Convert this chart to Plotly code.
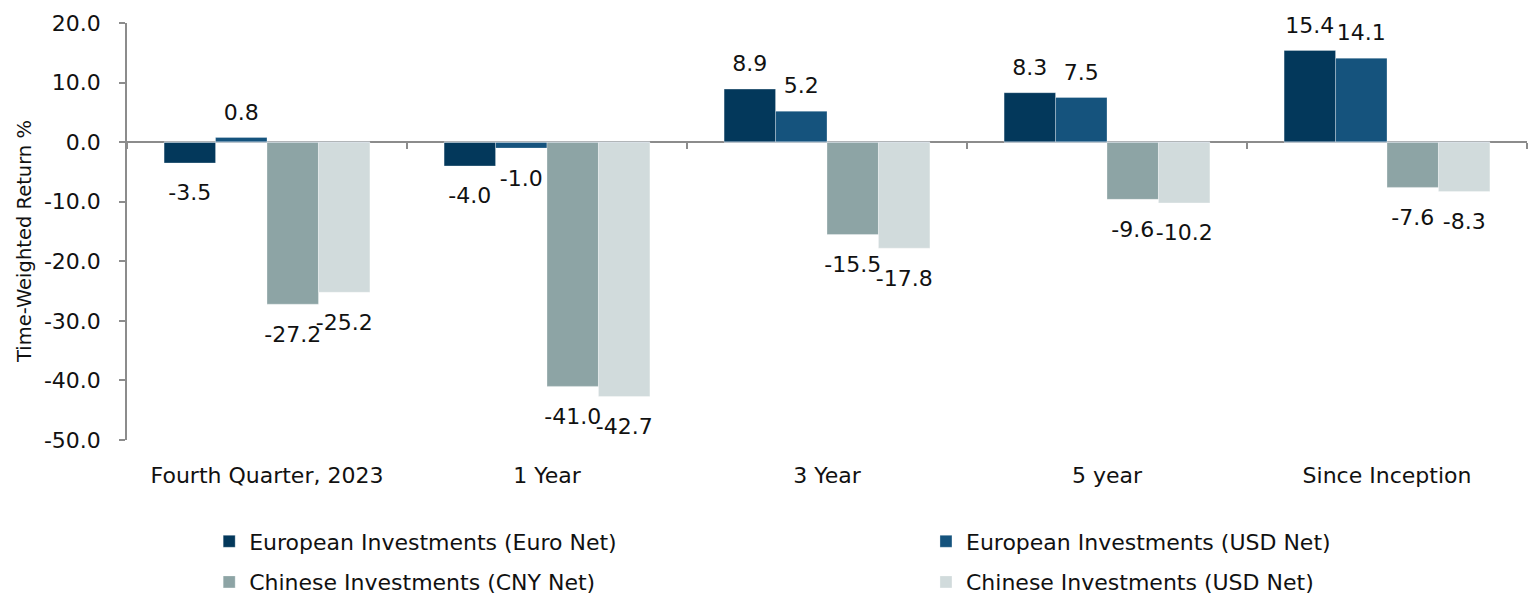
import plotly.graph_objects as go

categories = ["Fourth Quarter, 2023", "1 Year", "3 Year", "5 year", "Since Inception"]
series_names = [
    "European Investments (Euro Net)",
    "European Investments (USD Net)",
    "Chinese Investments (CNY Net)",
    "Chinese Investments (USD Net)",
]
euro_net = [-3.5, -4.0, 8.9, 8.3, 15.4]
eu_usd_net = [0.8, -1.0, 5.2, 7.5, 14.1]
cny_net = [-27.2, -41.0, -15.5, -9.6, -7.6]
cn_usd_net = [-25.2, -42.7, -17.8, -10.2, -8.3]
y_tick_vals = [-50, -40, -30, -20, -10, 0, 10, 20]
y_tick_text = ["-50.0", "-40.0", "-30.0", "-20.0", "-10.0", "0.0", "10.0", "20.0"]
y_title = "Time-Weighted Return %"
colors = ["#03385B", "#15537D", "#8DA4A5", "#D1DBDC"]
legend_ids = ["legend", "legend2", "legend", "legend2"]

y_min, y_max = -50, 20
FONT = "DejaVu Sans"
FS = 22
GAP = 0.265

all_series = [euro_net, eu_usd_net, cny_net, cn_usd_net]

fig = go.Figure()
for i, (name, vals, col, lg) in enumerate(zip(series_names, all_series, colors, legend_ids)):
    fig.add_trace(go.Bar(
        x=categories, y=vals, name=name, legend=lg, legendgroup=f"g{i}",
        marker=dict(color=col, line=dict(color="rgba(255,255,255,0.6)", width=0.5)),
    ))

# value labels: grouped scatter text traces aligned with the bars
for i, vals in enumerate(all_series):
    fig.add_trace(go.Scatter(
        x=categories, y=vals, mode="markers+text", showlegend=False, hoverinfo="skip",
        text=[f"{v:.1f}" for v in vals],
        textposition=["top center" if v >= 0 else "bottom center" for v in vals],
        textfont=dict(size=FS, color="#111111", family=FONT),
        marker=dict(size=[18 if v >= 0 else 32 for v in vals], color="rgba(0,0,0,0)",
                    opacity=0, line=dict(width=0, color="rgba(0,0,0,0)")),
        cliponaxis=False,
    ))

# invisible helper trace for the tick-marks axis on the zero line
fig.add_trace(go.Bar(x=categories, y=[0] * len(categories), xaxis="x2", showlegend=False,
                     hoverinfo="skip", marker=dict(color="rgba(0,0,0,0)")))

legend_common = dict(
    orientation="v", y=-0.193, yanchor="top",
    font=dict(size=FS, family=FONT, color="#111111"), tracegroupgap=9,
    itemwidth=30, bgcolor="rgba(0,0,0,0)",
)

fig.update_layout(
    width=1528, height=596,
    margin=dict(l=127, r=1, t=23, b=156, autoexpand=False),
    paper_bgcolor="white", plot_bgcolor="white",
    barmode="group", bargap=GAP, bargroupgap=0,
    scattermode="group", scattergap=GAP,
    font=dict(family=FONT, size=FS, color="#111111"),
    xaxis=dict(
        type="category", categoryarray=categories, range=[-0.5, 4.5],
        showline=False, ticks="", showgrid=False, zeroline=False, automargin=False,
        tickfont=dict(size=FS, family=FONT), ticklabelstandoff=20, tickangle=0,
    ),
    xaxis2=dict(
        type="category", categoryarray=categories, range=[-0.5, 4.5],
        overlaying="x", anchor="free", position=(0 - y_min) / (y_max - y_min),
        side="bottom", showticklabels=False, ticks="outside", tickson="boundaries",
        ticklen=6, tickcolor="#8C8C8C", tickwidth=1.5, showline=False, showgrid=False,
        automargin=False,
    ),
    yaxis=dict(
        range=[y_min, y_max], tickmode="array", tickvals=y_tick_vals, ticktext=y_tick_text,
        automargin=False,
        showline=True, linecolor="#8C8C8C", linewidth=1.5,
        ticks="outside", ticklen=6, tickcolor="#8C8C8C", tickwidth=1.5,
        showgrid=False, zeroline=True, zerolinecolor="#8C8C8C", zerolinewidth=2,
        tickfont=dict(size=FS, family=FONT), ticklabelstandoff=14,
    ),
    annotations=[dict(
        text=y_title, textangle=-90, xref="paper", yref="paper",
        x=-0.0728, y=0.475, xanchor="center", yanchor="middle", showarrow=False,
        font=dict(size=19.5, family=FONT, color="#111111"),
    )],
    legend=dict(x=0.0587, **legend_common),
    legend2=dict(x=0.5707, **legend_common),
)

fig.write_html("out.html", config={"displayModeBar": False},
               post_script="document.body.style.margin='0';")
